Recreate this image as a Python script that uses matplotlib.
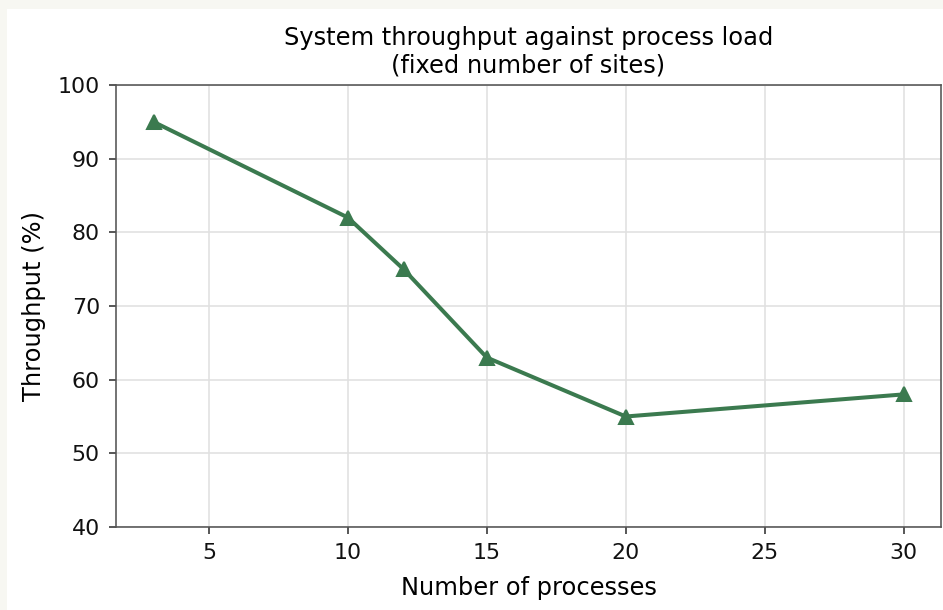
import matplotlib
matplotlib.use("Agg")
import matplotlib.pyplot as plt
from matplotlib.patches import Rectangle

processes = [3, 10, 12, 15, 20, 30]
throughput = [95, 82, 75, 63, 55, 58]

fig = plt.figure(figsize=(943 / 145, 610 / 145), dpi=145, facecolor="#f7f7f2")
# white sheet inside the off-white frame
fig.add_artist(Rectangle((7 / 943, 0), 1, 1 - 9 / 610, transform=fig.transFigure,
                         facecolor="white", edgecolor="none", zorder=-10))

ax = fig.add_axes([116 / 943, 1 - 527 / 610, (941 - 116) / 943, (527 - 85) / 610])
ax.plot(processes, throughput, color="#3b7a4f", linewidth=2, marker="^", markersize=7)

ax.set_ylim(40, 100)
ax.set_xticks([5, 10, 15, 20, 25, 30])
ax.grid(True, color="#e0e0e0", linewidth=0.8)
ax.set_axisbelow(True)
for s in ax.spines.values():
    s.set_color("#555555")
ax.tick_params(colors="#333333", labelcolor="#111111", labelsize=11, pad=4.5)

ax.set_title("System throughput against process load\n(fixed number of sites)", fontsize=12)
ax.set_xlabel("Number of processes", fontsize=12, labelpad=6.5)
ax.set_ylabel("Throughput (%)", fontsize=12, labelpad=6)

fig.savefig("out.png", dpi=145, facecolor=fig.get_facecolor())
